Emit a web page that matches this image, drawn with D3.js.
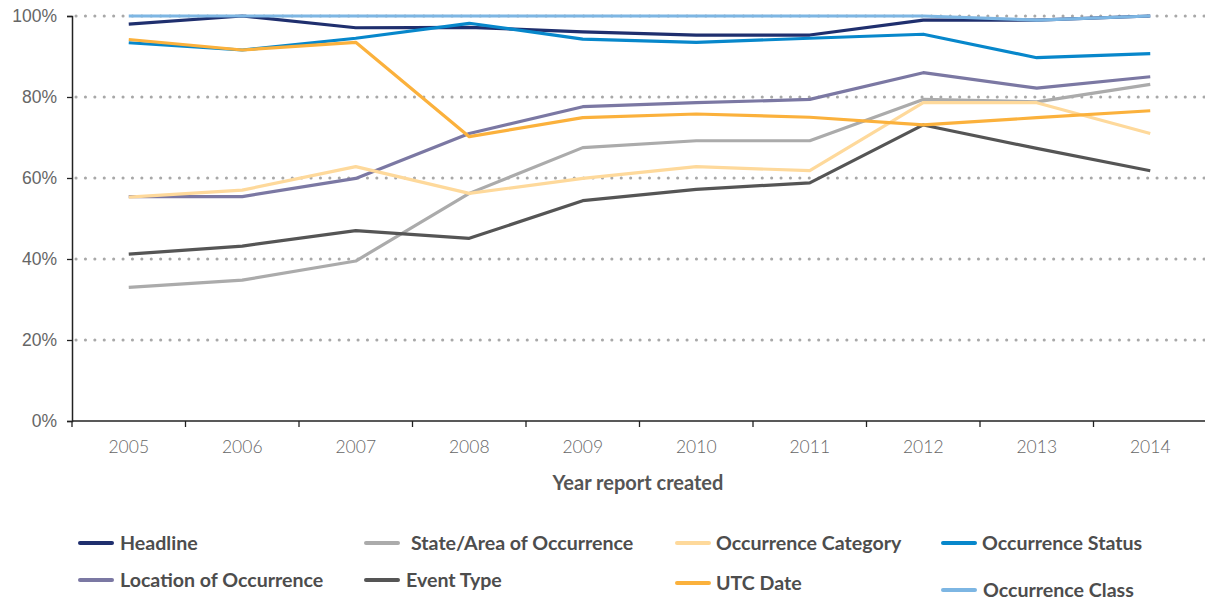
<!DOCTYPE html>
<html>
<head>
<meta charset="utf-8">
<script src="https://cdn.jsdelivr.net/npm/d3@7"></script>
<style>
  html, body { margin: 0; padding: 0; background: #fff; }
  svg { display: block; font-family: Lato, "Open Sans", sans-serif; }
</style>
</head>
<body>
<svg id="chart" width="1205" height="601"></svg>
<script>
// Years on the x axis
const years = ["2005", "2006", "2007", "2008", "2009", "2010", "2011", "2012", "2013", "2014"];

// Share of reports with each field completed (%)
const headline = [98, 100, 97.1, 97.2, 96.1, 95.3, 95.3, 99, 99, 100];
const locationOfOccurrence = [55.4, 55.4, 59.9, 71, 77.6, 78.6, 79.4, 86, 82.2, 85];
const stateArea = [33, 34.8, 39.5, 56.2, 67.5, 69.2, 69.2, 79.4, 78.8, 83.1];
const eventType = [41.2, 43.2, 47, 45.1, 54.4, 57.2, 58.8, 73.1, 67.3, 61.8];
const occurrenceCategory = [55.3, 57, 62.8, 56.2, 59.9, 62.8, 61.8, 78.6, 78.6, 71];
const occurrenceStatus = [93.4, 91.6, 94.5, 98.2, 94.3, 93.5, 94.5, 95.5, 89.7, 90.7];
const utcDate = [94.2, 91.6, 93.5, 70.2, 74.9, 75.8, 75, 73.1, 74.9, 76.6];
const occurrenceClass = [100, 100, 100, 100, 100, 100, 100, 100, 99, 100];

const yTicks = [0, 20, 40, 60, 80, 100];

// Series in drawing order
const series = [
  { name: "Headline", values: headline, color: "#1f2f6e" },
  { name: "Location of Occurrence", values: locationOfOccurrence, color: "#7b78a3" },
  { name: "State/Area of Occurrence", values: stateArea, color: "#ababab" },
  { name: "Event Type", values: eventType, color: "#555555" },
  { name: "Occurrence Category", values: occurrenceCategory, color: "#fed99b" },
  { name: "Occurrence Status", values: occurrenceStatus, color: "#0787cb" },
  { name: "UTC Date", values: utcDate, color: "#fbb13c" },
  { name: "Occurrence Class", values: occurrenceClass, color: "#7db6e3" }
];

// Legend placement
const legendItems = [
  { name: "Headline", lx: 80, tx: 120, y: 543 },
  { name: "Location of Occurrence", lx: 80, tx: 120, y: 580 },
  { name: "State/Area of Occurrence", lx: 366, tx: 411, y: 543 },
  { name: "Event Type", lx: 366, tx: 406, y: 580 },
  { name: "Occurrence Category", lx: 677, tx: 716, y: 543 },
  { name: "UTC Date", lx: 677, tx: 716, y: 583 },
  { name: "Occurrence Status", lx: 943, tx: 982, y: 543 },
  { name: "Occurrence Class", lx: 943, tx: 983, y: 590 }
];

const svg = d3.select("#chart");
const plotLeft = 72, plotRight = 1207, plotTop = 16, plotBottom = 421;

const x = d3.scaleBand().domain(years).range([plotLeft, plotRight]);
const y = d3.scaleLinear().domain([0, 100]).range([plotBottom, plotTop]);

// Dotted gridlines
svg.append("g")
  .selectAll("line")
  .data(yTicks.filter(d => d > 0))
  .join("line")
  .attr("x1", plotLeft + 4)
  .attr("x2", 1205)
  .attr("y1", d => y(d))
  .attr("y2", d => y(d))
  .attr("stroke", "#a8a8a8")
  .attr("stroke-width", 3)
  .attr("stroke-linecap", "round")
  .attr("stroke-dasharray", "0.1 9.3");

// Y axis
const yAxis = svg.append("g")
  .attr("transform", `translate(${plotLeft},0)`)
  .call(d3.axisLeft(y).tickValues(yTicks).tickFormat(d => d + "%").tickSize(5).tickPadding(10));
yAxis.select(".domain").attr("stroke", "#222").attr("stroke-width", 1.5);
yAxis.selectAll(".tick line").attr("stroke", "#222").attr("stroke-width", 1.3);
yAxis.selectAll(".tick text")
  .attr("fill", "#666")
  .style("font-size", "17.5px")
  .style("font-weight", 300);

// X axis with ticks at band boundaries
const xAxisG = svg.append("g").attr("transform", `translate(0,${plotBottom})`);
xAxisG.append("line")
  .attr("x1", plotLeft).attr("x2", 1205)
  .attr("stroke", "#222").attr("stroke-width", 1.5);
xAxisG.selectAll(".bt")
  .data(years)
  .join("line")
  .attr("class", "bt")
  .attr("x1", d => x(d)).attr("x2", d => x(d))
  .attr("y1", 0).attr("y2", 6)
  .attr("stroke", "#222").attr("stroke-width", 1.3);
xAxisG.selectAll("text")
  .data(years)
  .join("text")
  .attr("x", d => x(d) + x.bandwidth() / 2)
  .attr("y", 32)
  .attr("text-anchor", "middle")
  .attr("fill", "#666")
  .style("font-size", "17.5px")
  .style("font-weight", 300)
  .text(d => d);

// Axis title
svg.append("text")
  .attr("x", 638)
  .attr("y", 490)
  .attr("text-anchor", "middle")
  .attr("fill", "#555")
  .style("font-size", "20px")
  .style("font-weight", 700)
  .text("Year report created");

// Lines
const line = d3.line()
  .x((d, i) => x(years[i]) + x.bandwidth() / 2)
  .y(d => y(d));

svg.append("g")
  .selectAll("path")
  .data(series)
  .join("path")
  .attr("d", d => line(d.values))
  .attr("fill", "none")
  .attr("stroke", d => d.color)
  .attr("stroke-width", 3.2)
  .attr("stroke-linejoin", "round");

// Legend
const colorOf = new Map(series.map(s => [s.name, s.color]));
const lg = svg.append("g");
lg.selectAll("line")
  .data(legendItems)
  .join("line")
  .attr("x1", d => d.lx).attr("x2", d => d.lx + 32)
  .attr("y1", d => d.y).attr("y2", d => d.y)
  .attr("stroke", d => colorOf.get(d.name))
  .attr("stroke-width", 4)
  .attr("stroke-linecap", "round");
lg.selectAll("text")
  .data(legendItems)
  .join("text")
  .attr("x", d => d.tx)
  .attr("y", d => d.y)
  .attr("dy", "0.36em")
  .attr("fill", "#4d4d4d")
  .style("font-size", "19.6px")
  .style("font-weight", 700)
  .text(d => d.name);
</script>
</body>
</html>
